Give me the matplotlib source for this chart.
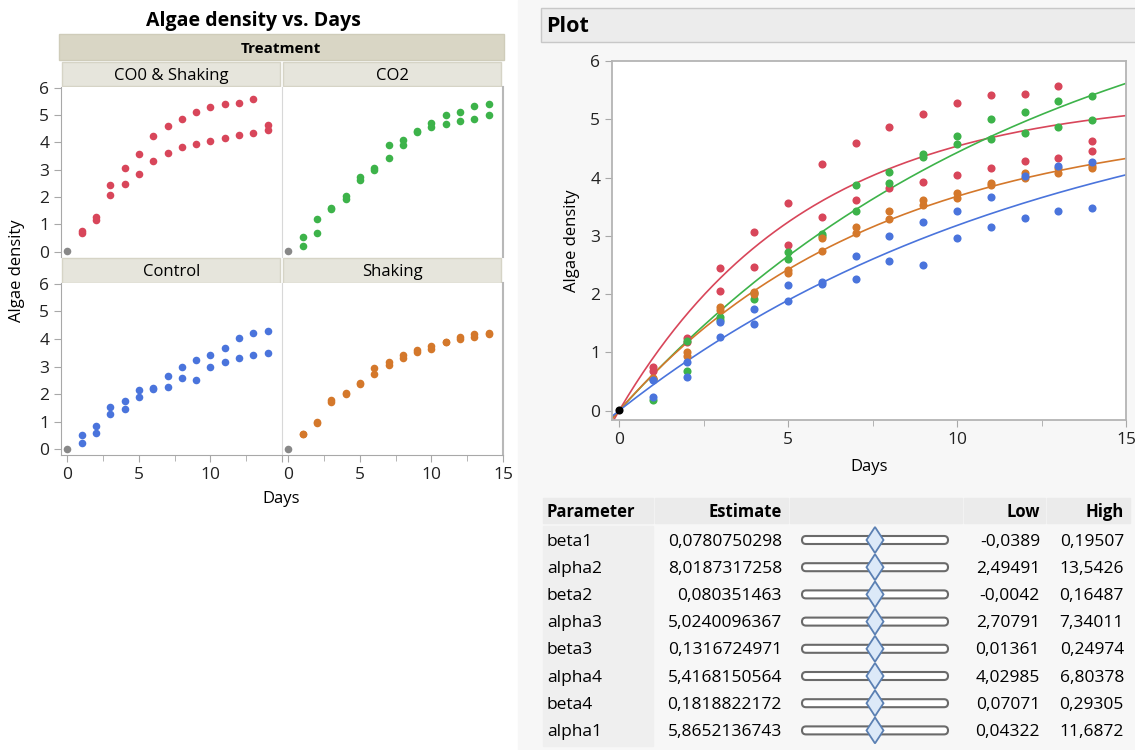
import numpy as np
import matplotlib.pyplot as plt
from matplotlib.patches import Rectangle, FancyBboxPatch, Polygon

plt.rcParams['font.family'] = ['Open Sans', 'DejaVu Sans']

W, H = 1135, 750

# data
days = list(range(1, 15))
day0 = 0.03

co0_a = [0.75, 1.25, 2.45, 3.07, 3.57, 4.24, 4.59, 4.86, 5.09, 5.28, 5.41, 5.44, 5.57, 4.62]
co0_b = [0.68, 1.17, 2.06, 2.46, 2.85, 3.32, 3.62, 3.82, 3.92, 4.05, 4.17, 4.28, 4.34, 4.46]
co2_a = [0.54, 1.19, 1.61, 2.02, 2.73, 3.04, 3.88, 4.09, 4.40, 4.72, 5.00, 5.12, 5.31, 5.40]
co2_b = [0.19, 0.68, 1.55, 1.91, 2.60, 3.00, 3.42, 3.90, 4.36, 4.57, 4.67, 4.77, 4.86, 4.99]
ctrl_a = [0.52, 0.84, 1.52, 1.74, 2.15, 2.21, 2.66, 3.00, 3.23, 3.42, 3.66, 4.03, 4.20, 4.27]
ctrl_b = [0.24, 0.58, 1.27, 1.48, 1.89, 2.17, 2.26, 2.57, 2.50, 2.97, 3.16, 3.31, 3.43, 3.48]
shak_a = [0.56, 1.01, 1.78, 2.03, 2.41, 2.96, 3.15, 3.43, 3.61, 3.73, 3.90, 4.07, 4.17, 4.20]
shak_b = [0.55, 0.94, 1.72, 2.01, 2.37, 2.74, 3.05, 3.29, 3.53, 3.65, 3.87, 3.99, 4.08, 4.16]

params = ['beta1', 'alpha2', 'beta2', 'alpha3', 'beta3', 'alpha4', 'beta4', 'alpha1']
estimates = ['0,0780750298', '8,0187317258', '0,080351463', '5,0240096367',
             '0,1316724971', '5,4168150564', '0,1818822172', '5,8652136743']
lows = ['-0,0389', '2,49491', '-0,0042', '2,70791', '0,01361', '4,02985', '0,07071', '0,04322']
highs = ['0,19507', '13,5426', '0,16487', '7,34011', '0,24974', '6,80378', '0,29305', '11,6872']

red = '#d8465a'
green = '#3db34a'
blue = '#4a74dc'
orange = '#d4782b'


def num(s):
    return float(s.replace(',', '.'))


est = {p: num(e) for p, e in zip(params, estimates)}

# group index -> (name, colour, rep a, rep b)
groups = {
    1: ('Control', blue, ctrl_a, ctrl_b),
    2: ('CO2', green, co2_a, co2_b),
    3: ('Shaking', orange, shak_a, shak_b),
    4: ('CO0 & Shaking', red, co0_a, co0_b),
}


def rect(x0, y0, x1, y1):
    return [x0 / W, 1 - y1 / H, (x1 - x0) / W, (y1 - y0) / H]


fig = plt.figure(figsize=(11.35, 7.5), dpi=100)
fig.patch.set_facecolor('white')

# background layer in pixel coordinates
bg = fig.add_axes([0, 0, 1, 1], zorder=0)
bg.set_xlim(0, W)
bg.set_ylim(H, 0)
bg.axis('off')
bg.add_patch(Rectangle((518, 0), W - 518, H, color='#f7f7f7'))

# left: faceted chart
bg.text(253, 21, 'Algae density vs. Days', ha='center', va='center',
        fontsize=14, fontweight='bold')
bg.add_patch(Rectangle((59, 34), 445, 26, facecolor='#d9d6c5', edgecolor='#cfccba'))
bg.text(281, 49, 'Treatment', ha='center', va='center', fontsize=11, fontweight='bold')

panels = [(4, 0, 0), (2, 0, 1), (1, 1, 0), (3, 1, 1)]
col_x = [(61, 282), (282, 503)]
row_y = [(87, 257), (283, 455)]
head_y = [(62, 86), (258, 283)]

for g, r, c in panels:
    name, col, a, b = groups[g]
    x0, x1 = col_x[c]
    y0, y1 = row_y[r]
    hy0, hy1 = head_y[r]
    bg.add_patch(Rectangle((x0 + 1, hy0), x1 - x0 - 3, hy1 - hy0,
                           facecolor='#e6e5dc', edgecolor='#d6d4c6'))
    bg.text((x0 + x1) / 2, (hy0 + hy1) / 2 + 1.5, name, ha='center', va='center', fontsize=12)

    ax = fig.add_axes(rect(x0, y0, x1, y1), zorder=1)
    ax.scatter(days, a, s=30, color=col, linewidths=0, zorder=3)
    ax.scatter(days, b, s=30, color=col, linewidths=0, zorder=3)
    ax.scatter([0], [day0], s=30, color='#888888', linewidths=0, zorder=3)
    ax.set_xlim(-0.45, 15)
    ax.set_ylim(-0.2, 6.02)
    for s in ax.spines.values():
        s.set_visible(False)
    ax.spines['left'].set_visible(True)
    ax.spines['left'].set_color('#a8a8a8' if c == 0 else '#d8d8d8')
    if c == 1:
        ax.spines['right'].set_visible(True)
        ax.spines['right'].set_color('#b8b8b8')
        ax.spines['right'].set_linewidth(1.5)
    ax.tick_params(colors='#a8a8a8', labelcolor='#222222', labelsize=12.5, length=5)
    if c == 0:
        ax.set_yticks(range(7))
    else:
        ax.set_yticks([])
    if r == 1:
        ax.spines['bottom'].set_visible(True)
        ax.spines['bottom'].set_color('#a8a8a8')
        ax.set_xticks([0, 5, 10, 15])
        ax.set_xticks([2.5, 7.5, 12.5], minor=True)
        ax.tick_params(axis='x', which='minor', colors='#a8a8a8', length=4)
        if c == 0:
            ax.set_xticklabels(['0', '5', '10', ''])
    else:
        ax.set_xticks([])

bg.text(17, 271, 'Algae density', rotation=90, ha='center', va='center', fontsize=12)
bg.text(281, 499, 'Days', ha='center', va='center', fontsize=12)

# right: Plot header
bg.add_patch(Rectangle((541, 8), W - 541 + 2, 34, facecolor='#ececec', edgecolor='#c8c8c8'))
bg.text(546, 26.5, 'Plot', ha='left', va='center', fontsize=15.5, fontweight='bold')

ax = fig.add_axes(rect(612, 61, 1126, 420), zorder=1)
t = np.linspace(-0.2, 15, 200)
for g in [4, 2, 3, 1]:
    name, col, a, b = groups[g]
    alpha = est['alpha%d' % g]
    beta = est['beta%d' % g]
    ax.plot(t, alpha * (1 - np.exp(-beta * t)), color=col, lw=1.2, zorder=2)
    ax.scatter(days, a, s=34, color=col, linewidths=0, zorder=3)
    ax.scatter(days, b, s=34, color=col, linewidths=0, zorder=3)
ax.scatter([0], [day0 - 0.02], s=34, color='black', linewidths=0, zorder=4)
ax.set_xlim(-0.21, 15)
ax.set_ylim(-0.16, 6)
ax.set_xticks([0, 5, 10, 15])
ax.set_xticks([2.5, 7.5, 12.5], minor=True)
ax.set_yticks(range(7))
for s in ax.spines.values():
    s.set_color('#b4b4b4')
    s.set_linewidth(1.3)
ax.tick_params(colors='#a8a8a8', labelcolor='#222222', labelsize=12.5, length=5)
ax.tick_params(axis='x', which='minor', colors='#a8a8a8', length=4)
ax.set_xlabel('Days', fontsize=12, labelpad=8)
ax.set_ylabel('Algae density', fontsize=12, labelpad=7)

# parameter table
hy0, hy1 = 498, 523
cells = [(543, 653), (655, 788), (790, 962), (964, 1045), (1047, 1130)]
for x0, x1 in cells:
    bg.add_patch(Rectangle((x0, hy0), x1 - x0, hy1 - hy0, color='#ebebeb'))
bg.add_patch(Rectangle((543, 526), 110, 220, color='#efefef'))
hc = (hy0 + hy1) / 2 + 1.5
bg.text(547, hc, 'Parameter', ha='left', va='center', fontsize=12, fontweight='bold')
bg.text(782, hc, 'Estimate', ha='right', va='center', fontsize=12, fontweight='bold')
bg.text(1040, hc, 'Low', ha='right', va='center', fontsize=12, fontweight='bold')
bg.text(1124, hc, 'High', ha='right', va='center', fontsize=12, fontweight='bold')

bar_x0, bar_x1 = 802, 948
for i, p in enumerate(params):
    yc = 540 + 27.2 * i
    bg.text(547, yc + 1.5, p, ha='left', va='center', fontsize=12.5)
    bg.text(782, yc + 1.5, estimates[i], ha='right', va='center', fontsize=12.5)
    bg.text(1040, yc + 1.5, lows[i], ha='right', va='center', fontsize=12.5)
    bg.text(1124, yc + 1.5, highs[i], ha='right', va='center', fontsize=12.5)
    bg.add_patch(FancyBboxPatch((bar_x0, yc - 4), bar_x1 - bar_x0, 8,
                                boxstyle='round,pad=0,rounding_size=4',
                                facecolor='white', edgecolor='#6a6a6a', lw=1.5))
    lo, hi, e = num(lows[i]), num(highs[i]), num(estimates[i])
    dx = bar_x0 + (e - lo) / (hi - lo) * (bar_x1 - bar_x0)
    bg.add_patch(Polygon([(dx, yc - 13), (dx + 8.5, yc), (dx, yc + 13), (dx - 8.5, yc)],
                         closed=True, facecolor='#dce9f8', edgecolor='#5b80b3', lw=1.3))

fig.savefig('out.png', dpi=100)
